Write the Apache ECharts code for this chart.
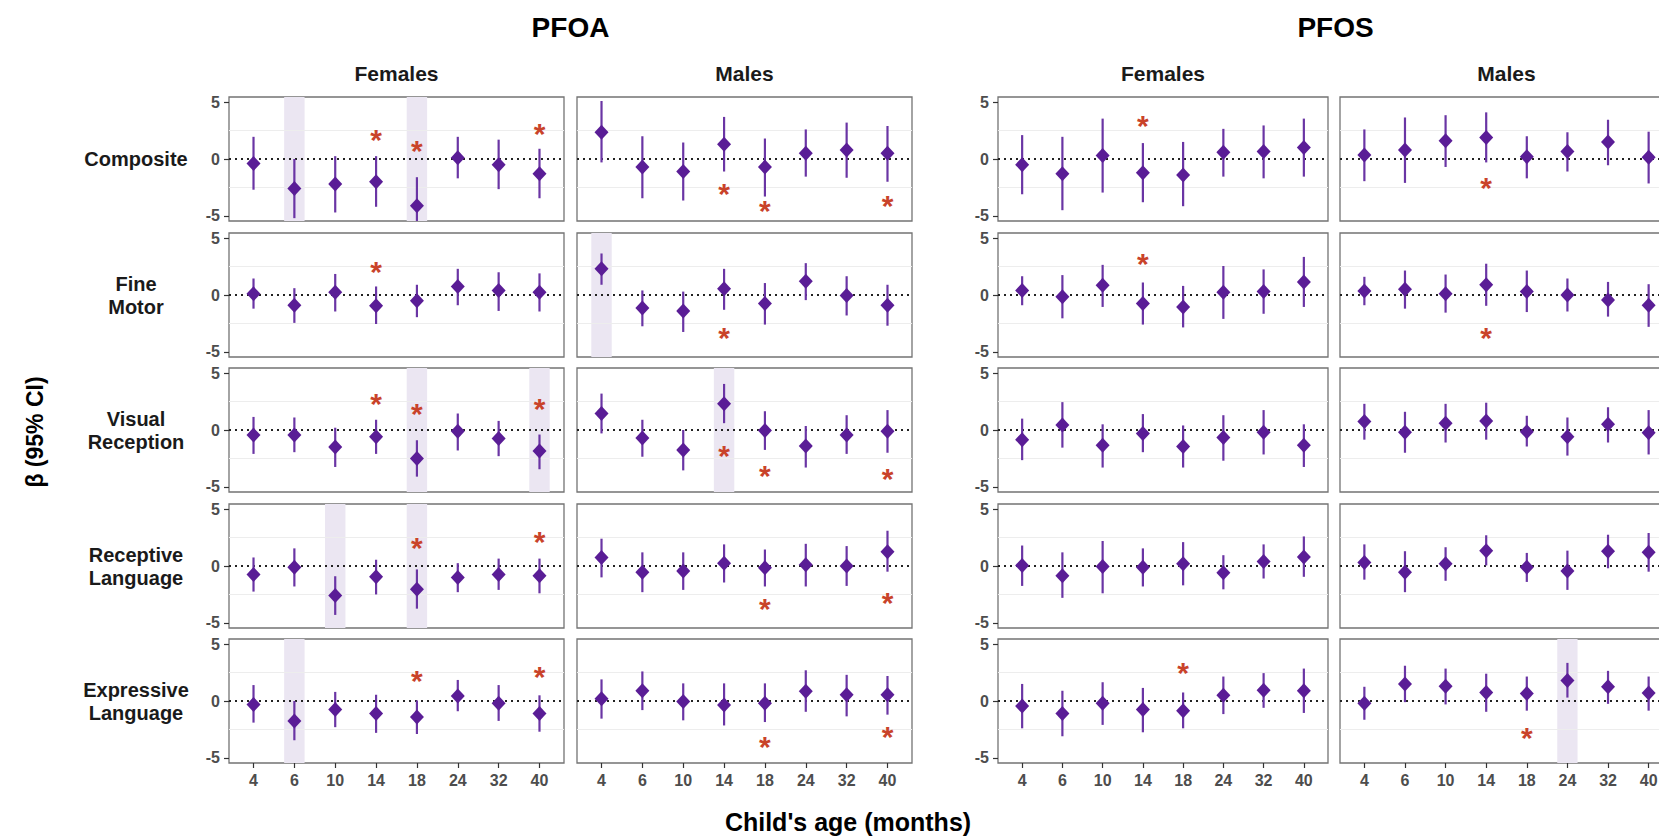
<!DOCTYPE html>
<html>
<head>
<meta charset="utf-8">
<script src="https://cdn.jsdelivr.net/npm/echarts@6/dist/echarts.min.js"></script>
<style>
html, body { margin: 0; padding: 0; background: #fff; overflow: hidden; }
#chart { width: 1690px; height: 839px; }
</style>
</head>
<body>
<div id="chart"></div>
<script>
'use strict';

var months = ['4', '6', '10', '14', '18', '24', '32', '40'];
var chemicals = ['PFOA', 'PFOS'];
var sexes = ['Females', 'Males'];
var outcomes = ['Composite', 'Fine\nMotor', 'Visual\nReception', 'Receptive\nLanguage', 'Expressive\nLanguage'];

// every block below: [PFOA females, PFOA males, PFOS females, PFOS males]
var compositeEst = [
  [-0.4, -2.6, -2.2, -2.0, -4.1, 0.1, -0.5, -1.3],
  [2.35, -0.7, -1.1, 1.3, -0.7, 0.5, 0.8, 0.5],
  [-0.5, -1.3, 0.3, -1.2, -1.4, 0.6, 0.65, 1.0],
  [0.35, 0.8, 1.6, 1.9, 0.2, 0.65, 1.5, 0.15]
];
var compositeLow = [
  [-2.7, -5.2, -4.7, -4.2, -5.5, -1.7, -2.65, -3.45],
  [-0.3, -3.45, -3.65, -1.1, -3.3, -1.55, -1.65, -2.0],
  [-3.1, -4.5, -2.95, -3.8, -4.15, -1.55, -1.7, -1.55],
  [-1.95, -2.1, -0.7, -0.3, -1.7, -1.1, -0.55, -2.15]
];
var compositeHigh = [
  [1.95, 0.0, 0.25, 0.25, -1.6, 1.95, 1.7, 0.9],
  [5.1, 2.0, 1.45, 3.7, 1.8, 2.6, 3.2, 2.9],
  [2.1, 1.95, 3.55, 1.4, 1.5, 2.65, 2.95, 3.55],
  [2.6, 3.65, 3.85, 4.1, 2.0, 2.35, 3.45, 2.4]
];
var compositeStar = [
  [null, null, null, 2.0, 1.0, null, null, 2.5],
  [null, null, null, -2.8, -4.3, null, null, -3.8],
  [null, null, null, 3.25, null, null, null, null],
  [null, null, null, -2.2, null, null, null, null]
];
var compositeShade = [[0, 1, 0, 0, 1, 0, 0, 0], [0, 0, 0, 0, 0, 0, 0, 0], [0, 0, 0, 0, 0, 0, 0, 0], [0, 0, 0, 0, 0, 0, 0, 0]];

var fineMotorEst = [
  [0.1, -0.9, 0.25, -0.95, -0.5, 0.75, 0.4, 0.25],
  [2.3, -1.15, -1.4, 0.55, -0.75, 1.2, -0.05, -0.9],
  [0.4, -0.15, 0.85, -0.75, -1.05, 0.25, 0.3, 1.15],
  [0.35, 0.5, 0.1, 0.9, 0.3, 0.0, -0.45, -0.9]
];
var fineMotorLow = [
  [-1.2, -2.45, -1.45, -2.55, -1.95, -0.9, -1.4, -1.45],
  [0.9, -2.75, -3.25, -1.3, -2.6, -0.45, -1.8, -2.7],
  [-0.9, -2.05, -1.05, -2.6, -2.85, -2.1, -1.65, -1.05],
  [-0.9, -1.2, -1.55, -0.95, -1.5, -1.45, -1.9, -2.8]
];
var fineMotorHigh = [
  [1.45, 0.6, 1.85, 0.75, 0.9, 2.3, 2.0, 1.9],
  [3.65, 0.4, 0.3, 2.3, 1.05, 2.8, 1.65, 0.9],
  [1.65, 1.75, 2.65, 1.1, 0.8, 2.55, 2.25, 3.35],
  [1.6, 2.15, 1.8, 2.75, 2.15, 1.45, 1.15, 0.95]
];
var fineMotorStar = [
  [null, null, null, 2.3, null, null, null, null],
  [null, null, null, -3.45, null, null, null, null],
  [null, null, null, 3.0, null, null, null, null],
  [null, null, null, -3.45, null, null, null, null]
];
var fineMotorShade = [[0, 0, 0, 0, 0, 0, 0, 0], [1, 0, 0, 0, 0, 0, 0, 0], [0, 0, 0, 0, 0, 0, 0, 0], [0, 0, 0, 0, 0, 0, 0, 0]];

var visualEst = [
  [-0.45, -0.45, -1.5, -0.6, -2.5, -0.1, -0.75, -1.85],
  [1.45, -0.7, -1.75, 2.3, -0.05, -1.4, -0.45, -0.1],
  [-0.85, 0.45, -1.35, -0.3, -1.45, -0.65, -0.2, -1.35],
  [0.75, -0.2, 0.6, 0.8, -0.15, -0.6, 0.5, -0.25]
];
var visualLow = [
  [-2.1, -1.95, -3.25, -2.1, -4.1, -1.8, -2.3, -3.45],
  [-0.3, -2.35, -3.55, 0.6, -1.75, -3.3, -2.1, -2.0],
  [-2.65, -1.55, -3.3, -1.95, -3.3, -2.7, -2.15, -3.25],
  [-0.85, -2.0, -1.1, -0.85, -1.45, -2.25, -1.1, -2.15]
];
var visualHigh = [
  [1.15, 1.1, 0.2, 0.9, -0.9, 1.45, 0.8, -0.4],
  [3.2, 0.9, 0.0, 4.05, 1.65, 0.35, 1.3, 1.75],
  [1.0, 2.45, 0.5, 1.4, 0.4, 1.3, 1.75, 0.5],
  [2.3, 1.6, 2.3, 2.4, 1.25, 1.1, 2.0, 1.75]
];
var visualStar = [
  [null, null, null, 2.6, 1.75, null, null, 2.15],
  [null, null, null, -2.0, -3.75, null, null, -4.0],
  [null, null, null, null, null, null, null, null],
  [null, null, null, null, null, null, null, null]
];
var visualShade = [[0, 0, 0, 0, 1, 0, 0, 1], [0, 0, 0, 1, 0, 0, 0, 0], [0, 0, 0, 0, 0, 0, 0, 0], [0, 0, 0, 0, 0, 0, 0, 0]];

var receptiveEst = [
  [-0.75, -0.1, -2.6, -0.95, -2.05, -1.0, -0.75, -0.85],
  [0.75, -0.55, -0.45, 0.25, -0.15, 0.1, 0.0, 1.25],
  [0.05, -0.85, -0.05, -0.1, 0.2, -0.6, 0.4, 0.8],
  [0.3, -0.55, 0.2, 1.35, -0.1, -0.45, 1.3, 1.2]
];
var receptiveLow = [
  [-2.25, -1.8, -4.3, -2.5, -3.75, -2.3, -2.1, -2.4],
  [-1.0, -2.3, -2.1, -1.45, -1.8, -1.8, -1.75, -0.5],
  [-1.75, -2.8, -2.4, -1.8, -1.7, -2.05, -1.1, -0.95],
  [-1.2, -2.3, -1.3, 0.05, -1.4, -2.1, -0.2, -0.5]
];
var receptiveHigh = [
  [0.75, 1.55, -0.9, 0.55, -0.3, 0.25, 0.65, 0.65],
  [2.4, 1.2, 1.2, 1.9, 1.45, 1.95, 1.75, 3.1],
  [1.8, 1.2, 2.2, 1.55, 2.1, 0.95, 1.9, 2.6],
  [1.9, 1.3, 1.65, 2.7, 1.15, 1.35, 2.75, 2.9]
];
var receptiveStar = [
  [null, null, null, null, 1.9, null, null, 2.45],
  [null, null, null, null, -3.45, null, null, -2.95],
  [null, null, null, null, null, null, null, null],
  [null, null, null, null, null, null, null, null]
];
var receptiveShade = [[0, 0, 1, 0, 1, 0, 0, 0], [0, 0, 0, 0, 0, 0, 0, 0], [0, 0, 0, 0, 0, 0, 0, 0], [0, 0, 0, 0, 0, 0, 0, 0]];

var expressiveEst = [
  [-0.3, -1.75, -0.75, -1.1, -1.4, 0.45, -0.2, -1.1],
  [0.2, 0.9, -0.05, -0.35, -0.2, 0.85, 0.55, 0.55],
  [-0.45, -1.1, -0.2, -0.75, -0.85, 0.5, 0.95, 0.9],
  [-0.2, 1.5, 1.3, 0.75, 0.65, 1.8, 1.25, 0.7]
];
var expressiveLow = [
  [-1.9, -3.45, -2.3, -2.8, -2.9, -0.9, -1.75, -2.7],
  [-1.55, -0.8, -1.7, -2.15, -1.85, -0.95, -1.35, -1.2],
  [-2.4, -3.1, -2.1, -2.75, -2.4, -1.15, -0.6, -1.05],
  [-1.65, -0.1, -0.3, -0.95, -0.85, 0.3, -0.25, -0.85]
];
var expressiveHigh = [
  [1.4, 0.0, 0.8, 0.55, 0.05, 1.85, 1.4, 0.5],
  [1.9, 2.6, 1.55, 1.55, 1.55, 2.7, 2.3, 2.2],
  [1.5, 0.9, 1.65, 1.15, 0.75, 2.15, 2.45, 2.85],
  [1.25, 3.1, 2.85, 2.4, 2.15, 3.35, 2.65, 2.15]
];
var expressiveStar = [
  [null, null, null, null, 2.05, null, null, 2.4],
  [null, null, null, null, -3.75, null, null, -2.9],
  [null, null, null, null, 2.8, null, null, null],
  [null, null, null, null, -2.95, null, null, null]
];
var expressiveShade = [[0, 1, 0, 0, 0, 0, 0, 0], [0, 0, 0, 0, 0, 0, 0, 0], [0, 0, 0, 0, 0, 0, 0, 0], [0, 0, 0, 0, 0, 1, 0, 0]];

var yTicks = [-5, 0, 5];

var rowEst = [compositeEst, fineMotorEst, visualEst, receptiveEst, expressiveEst];
var rowLow = [compositeLow, fineMotorLow, visualLow, receptiveLow, expressiveLow];
var rowHigh = [compositeHigh, fineMotorHigh, visualHigh, receptiveHigh, expressiveHigh];
var rowStar = [compositeStar, fineMotorStar, visualStar, receptiveStar, expressiveStar];
var rowShade = [compositeShade, fineMotorShade, visualShade, receptiveShade, expressiveShade];

// layout (the right-most panel runs past the window edge, as in the original)
var colLeft = [229, 577, 998, 1340];
var colWidth = [335, 335, 330, 333];
var rowTop = [97, 233, 368, 504, 639];
var rowHeight = 124;
var FONT = '"Liberation Sans", Arial, Helvetica, sans-serif';
var purple = '#5a1d96';
var lineColor = '#6a35a4';
var starColor = '#c9432a';

var grids = [], xAxes = [], yAxes = [], series = [];
var catIdx = months.map(function (m, i) { return i; });

for (var r = 0; r < outcomes.length; r++) {
  for (var c = 0; c < 4; c++) {
    var k = r * 4 + c;
    var est = rowEst[r][c], lo = rowLow[r][c], hi = rowHigh[r][c];
    var star = rowStar[r][c], shade = rowShade[r][c];

    grids.push({
      left: colLeft[c], top: rowTop[r], width: colWidth[c], height: rowHeight,
      show: true, borderColor: '#737373', borderWidth: 1.3, backgroundColor: 'transparent'
    });
    xAxes.push({
      type: 'value', gridIndex: k, min: -0.6, max: 7.6, position: 'bottom',
      axisLine: { show: false, onZero: false }, splitLine: { show: false },
      axisTick: { show: r === 4, customValues: catIdx, length: 5, lineStyle: { color: '#333', width: 1.2 } },
      axisLabel: {
        show: r === 4, customValues: catIdx, margin: 9,
        formatter: function (v) { return months[v]; },
        color: '#4d4d4d', fontFamily: FONT, fontWeight: 'bold', fontSize: 16
      }
    });
    yAxes.push({
      type: 'value', gridIndex: k, min: -5.45, max: 5.45, position: 'left',
      axisLine: { show: false, onZero: false }, splitLine: { show: false },
      axisTick: { show: c % 2 === 0, customValues: yTicks, length: 5, lineStyle: { color: '#333', width: 1.2 } },
      axisLabel: {
        show: c % 2 === 0, customValues: yTicks, margin: 9,
        color: '#4d4d4d', fontFamily: FONT, fontWeight: 'bold', fontSize: 16
      }
    });

    // highlighted ages
    var shadeData = [];
    shade.forEach(function (s, i) { if (s) shadeData.push([i, 0]); });
    series.push({
      type: 'custom', xAxisIndex: k, yAxisIndex: k, z: 1, silent: true,
      data: shadeData,
      renderItem: function (params, api) {
        var cs = params.coordSys;
        var x = api.coord([api.value(0), 0])[0];
        var w = api.size([1, 0])[0] * 0.5;
        return { type: 'rect', shape: { x: x - w / 2, y: cs.y, width: w, height: cs.height }, style: { fill: '#ebe6f2' } };
      }
    });

    // 95% CI
    series.push({
      type: 'custom', xAxisIndex: k, yAxisIndex: k, z: 3, silent: true, clip: true,
      data: est.map(function (v, i) { return [i, lo[i], hi[i]]; }),
      encode: { x: 0, y: [1, 2] },
      renderItem: function (params, api) {
        var p1 = api.coord([api.value(0), api.value(1)]);
        var p2 = api.coord([api.value(0), api.value(2)]);
        return { type: 'line', shape: { x1: p1[0], y1: p1[1], x2: p2[0], y2: p2[1] }, style: { stroke: lineColor, lineWidth: 2.2 } };
      }
    });

    // point estimates
    series.push({
      type: 'scatter', xAxisIndex: k, yAxisIndex: k, z: 4, silent: true,
      symbol: 'diamond', symbolSize: [14, 15],
      itemStyle: { color: purple, opacity: 1 },
      data: est.map(function (v, i) { return [i, v]; }),
      markLine: {
        silent: true, symbol: 'none', z: 2, animation: false,
        label: { show: false },
        data: [
          { yAxis: 2.5, lineStyle: { color: '#ededed', width: 1, type: 'solid' } },
          { yAxis: -2.5, lineStyle: { color: '#ededed', width: 1, type: 'solid' } },
          { yAxis: 0, lineStyle: { color: '#222', width: 2.2, type: [2, 4] } }
        ]
      }
    });

    // significance stars
    var starData = [];
    star.forEach(function (v, i) { if (v !== null) starData.push([i, v]); });
    series.push({
      type: 'custom', xAxisIndex: k, yAxisIndex: k, z: 5, silent: true,
      data: starData,
      renderItem: function (params, api) {
        var p = api.coord([api.value(0), api.value(1)]);
        return {
          type: 'text', x: p[0], y: p[1] + 3,
          style: { text: '*', fill: starColor, font: 'bold 30px ' + FONT, align: 'center', verticalAlign: 'middle' }
        };
      }
    });
  }
}

var graphics = [];
var titleFont = 'bold 28px ' + FONT;
var stripFont = 'bold 21px ' + FONT;
chemicals.forEach(function (name, j) {
  var l = colLeft[j * 2], rgt = colLeft[j * 2 + 1] + colWidth[j * 2 + 1];
  graphics.push({ type: 'text', x: (l + rgt) / 2, y: 27, style: { text: name, font: titleFont, fill: '#000', align: 'center', verticalAlign: 'middle' } });
});
for (var c2 = 0; c2 < 4; c2++) {
  graphics.push({ type: 'text', x: colLeft[c2] + colWidth[c2] / 2, y: 73, style: { text: sexes[c2 % 2], font: stripFont, fill: '#1a1a1a', align: 'center', verticalAlign: 'middle' } });
}
outcomes.forEach(function (name, r2) {
  graphics.push({ type: 'text', x: 136, y: rowTop[r2] + rowHeight / 2, style: { text: name, font: 'bold 20px ' + FONT, lineHeight: 23, fill: '#1a1a1a', align: 'center', verticalAlign: 'middle' } });
});
graphics.push({ type: 'text', x: 35, y: 432, rotation: Math.PI / 2, style: { text: 'β (95% CI)', font: 'bold 23px ' + FONT, fill: '#000', align: 'center', verticalAlign: 'middle' } });
graphics.push({ type: 'text', x: 848, y: 822, style: { text: "Child's age (months)", font: 'bold 25px ' + FONT, fill: '#000', align: 'center', verticalAlign: 'middle' } });

var chart = echarts.init(document.getElementById('chart'), null, { renderer: 'svg' });
chart.setOption({
  backgroundColor: '#fff',
  animation: false,
  grid: grids,
  xAxis: xAxes,
  yAxis: yAxes,
  graphic: graphics,
  series: series
});
</script>
</body>
</html>
